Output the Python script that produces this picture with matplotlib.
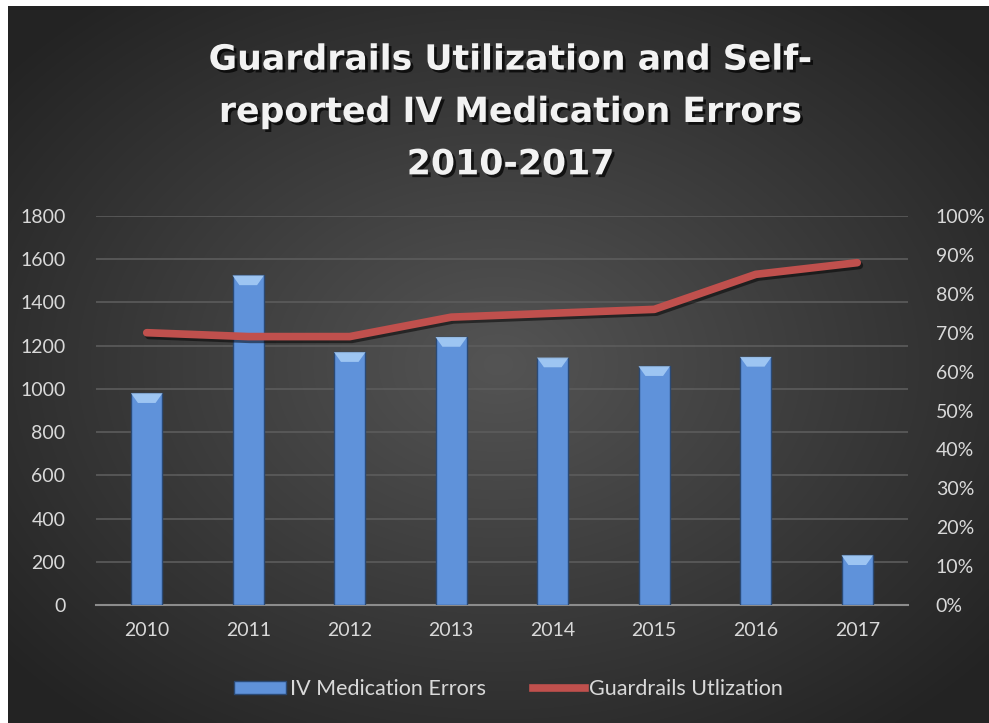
import numpy as np
import matplotlib
matplotlib.use("Agg")
import matplotlib.pyplot as plt
import matplotlib.patheffects as pe
from matplotlib.patches import Patch, Polygon
from matplotlib.lines import Line2D

years = ["2010", "2011", "2012", "2013", "2014", "2015", "2016", "2017"]
errors = [980, 1525, 1170, 1240, 1145, 1105, 1148, 230]
utilization = [0.70, 0.69, 0.69, 0.74, 0.75, 0.76, 0.85, 0.88]
left_ticks = [0, 200, 400, 600, 800, 1000, 1200, 1400, 1600, 1800]
right_ticks = [0.0, 0.1, 0.2, 0.3, 0.4, 0.5, 0.6, 0.7, 0.8, 0.9, 1.0]
title = "Guardrails Utilization and Self-\nreported IV Medication Errors\n2010-2017"

plt.rcParams['font.family'] = ['Lato', 'DejaVu Sans']

W, H = 989, 723
fig = plt.figure(figsize=(W / 100, H / 100), dpi=100, facecolor="white")

# background with radial gradient
bg = fig.add_axes([8 / W, 0, 1 - 8 / W, 1 - 6 / H])
bg.set_axis_off()
yy, xx = np.mgrid[0:1:300j, 0:1:400j]
r = np.sqrt(((xx - 0.5) / 0.75) ** 2 + ((yy - 0.5) / 0.75) ** 2)
val = np.clip(0.33 - 0.22 * r, 0.14, 0.34)
img = np.dstack([val, val, val])
bg.imshow(img, extent=[0, 1, 0, 1], aspect="auto", interpolation="bilinear")

fg = "#d9d9d9"
fig.text(0.5 + 16 / W, 1 - 112 / H, title, ha="center", va="center",
         fontsize=25, fontweight="bold", color="#f2f2f2", linespacing=1.68,
         family=["DejaVu Sans"],
         path_effects=[pe.withSimplePatchShadow(offset=(2, -2), shadow_rgbFace="black", alpha=0.7)])

ax = fig.add_axes([96 / W, 1 - 605 / H, (908 - 96) / W, (605 - 216) / H])
ax.set_facecolor("none")
x = np.arange(len(years))
bars = ax.bar(x, errors, width=0.31, color="#5f92da", edgecolor="#2b4a75", linewidth=1.0, zorder=3)
ax.set_xlim(-0.5, len(years) - 0.5)
ax.set_ylim(0, 1800)

# bevel highlight on top of each bar, derived from the bar geometry
for b in bars:
    x0, w, top = b.get_x(), b.get_width(), b.get_height()
    h = 45
    inset = w * 0.22
    ax.add_patch(Polygon([(x0, top), (x0 + w, top), (x0 + w - inset, top - h), (x0 + inset, top - h)],
                         closed=True, facecolor="#a9cff7", edgecolor="none", alpha=0.85, zorder=3.5))

ax.set_yticks(left_ticks)
ax.set_yticklabels([str(t) for t in left_ticks])
ax.set_xticks(x)
ax.set_xticklabels(years)
ax.grid(axis="y", color="#5c5c5c", linewidth=1.2, zorder=0)
ax.tick_params(axis="both", length=0, colors=fg, labelsize=14)
ax.tick_params(axis="y", pad=22)
ax.tick_params(axis="x", pad=12)
for s in ["top", "right", "left"]:
    ax.spines[s].set_visible(False)
ax.spines["bottom"].set_color("#8c8c8c")
ax.spines["bottom"].set_linewidth(1.5)
for lbl in ax.get_yticklabels():
    lbl.set_ha("right")

ax2 = ax.twinx()
ax2.set_ylim(0, 1.0)
ax2.plot(x, utilization, color="#c0504d", linewidth=5.5, solid_capstyle="round",
         solid_joinstyle="round", zorder=4,
         path_effects=[pe.SimpleLineShadow(offset=(1.5, -2), shadow_color="black", alpha=0.5), pe.Normal()])
ax2.set_yticks(right_ticks)
ax2.set_yticklabels([f"{int(round(t * 100))}%" for t in right_ticks])
ax2.tick_params(axis="y", length=0, colors=fg, labelsize=14, pad=20)
for s in ["top", "right", "left", "bottom"]:
    ax2.spines[s].set_visible(False)

handles = [Patch(facecolor="#5f92da", edgecolor="#2b4a75", label="IV Medication Errors"),
           Line2D([0], [0], color="#c0504d", linewidth=5.5, label="Guardrails Utlization")]
leg = fig.legend(handles=handles, loc="center", bbox_to_anchor=(0.5 + 14 / W, 1 - 689 / H), ncol=2,
                 frameon=False, fontsize=15.5, labelcolor=fg, handlelength=2.4, handleheight=0.6,
                 handletextpad=0.2, columnspacing=2.2)

fig.savefig("out.png", dpi=100, facecolor="white")
